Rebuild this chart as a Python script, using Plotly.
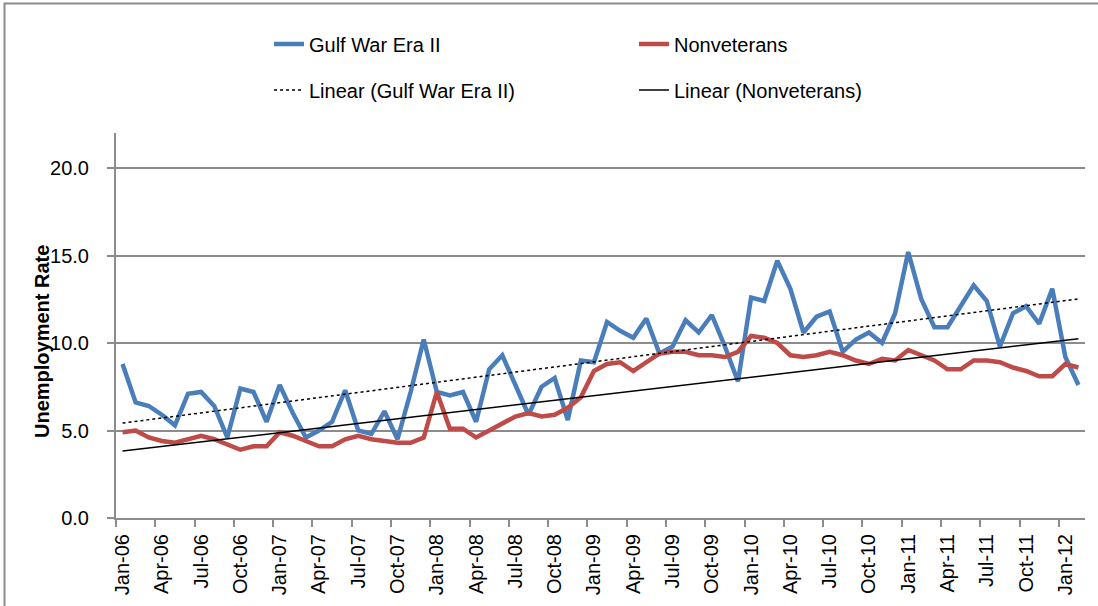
import numpy as np
import plotly.graph_objects as go

# monthly unemployment rates, Jan-06 .. Feb-12
gulf_war_ii = [
    8.8, 6.6, 6.4, 5.9, 5.3, 7.1, 7.2, 6.4, 4.6, 7.4, 7.2, 5.5,       # 2006
    7.6, 6.0, 4.6, 5.0, 5.5, 7.3, 5.0, 4.8, 6.1, 4.5, 7.2, 10.2,      # 2007
    7.2, 7.0, 7.2, 5.5, 8.5, 9.3, 7.6, 5.9, 7.5, 8.0, 5.6, 9.0,       # 2008
    8.9, 11.2, 10.7, 10.3, 11.4, 9.4, 9.8, 11.3, 10.6, 11.6, 9.8, 7.8,  # 2009
    12.6, 12.4, 14.7, 13.1, 10.6, 11.5, 11.8, 9.5, 10.2, 10.6, 10.0, 11.7,  # 2010
    15.2, 12.5, 10.9, 10.9, 12.1, 13.3, 12.4, 9.8, 11.7, 12.1, 11.1, 13.1,  # 2011
    9.2, 7.6,                                                           # 2012
]
nonveterans = [
    4.9, 5.0, 4.6, 4.4, 4.3, 4.5, 4.7, 4.5, 4.2, 3.9, 4.1, 4.1,
    4.9, 4.7, 4.4, 4.1, 4.1, 4.5, 4.7, 4.5, 4.4, 4.3, 4.3, 4.6,
    7.2, 5.1, 5.1, 4.6, 5.0, 5.4, 5.8, 6.0, 5.8, 5.9, 6.3, 6.9,
    8.4, 8.8, 8.9, 8.4, 8.9, 9.4, 9.5, 9.5, 9.3, 9.3, 9.2, 9.5,
    10.4, 10.3, 10.0, 9.3, 9.2, 9.3, 9.5, 9.3, 9.0, 8.8, 9.1, 9.0,
    9.6, 9.3, 9.0, 8.5, 8.5, 9.0, 9.0, 8.9, 8.6, 8.4, 8.1, 8.1,
    8.8, 8.6,
]
tick_labels = [
    'Jan-06', 'Apr-06', 'Jul-06', 'Oct-06', 'Jan-07', 'Apr-07', 'Jul-07', 'Oct-07',
    'Jan-08', 'Apr-08', 'Jul-08', 'Oct-08', 'Jan-09', 'Apr-09', 'Jul-09', 'Oct-09',
    'Jan-10', 'Apr-10', 'Jul-10', 'Oct-10', 'Jan-11', 'Apr-11', 'Jul-11', 'Oct-11', 'Jan-12',
]
y_ticks = [0, 5, 10, 15, 20]

x = np.arange(len(gulf_war_ii))
tick_pos = x[::3][:len(tick_labels)]

# Excel-style linear trendlines
gulf_fit = np.polyval(np.polyfit(x, gulf_war_ii, 1), x)
nonvet_fit = np.polyval(np.polyfit(x, nonveterans, 1), x)

BLUE, RED = '#4A7EBB', '#BE4B48'
GRID = '#8C8C8C'
FONT = 'Liberation Sans, Arial, sans-serif'
W, H = 1098, 606

fig = go.Figure()
fig.add_trace(go.Scatter(x=x, y=gulf_war_ii, mode='lines', name='Gulf War Era II',
                         line=dict(color=BLUE, width=4.5), legend='legend'))
fig.add_trace(go.Scatter(x=x, y=nonveterans, mode='lines', name='Nonveterans',
                         line=dict(color=RED, width=4.5), legend='legend'))
fig.add_trace(go.Scatter(x=x, y=gulf_fit, mode='lines', name='Linear (Gulf War Era II)',
                         line=dict(color='black', width=1.5, dash='dot'), legend='legend2'))
fig.add_trace(go.Scatter(x=x, y=nonvet_fit, mode='lines', name='Linear (Nonveterans)',
                         line=dict(color='black', width=1.5), legend='legend2'))

# legends placed in container coords so they don't push the margins
legend_common = dict(orientation='h', xref='container', yref='container',
                     xanchor='left', yanchor='middle', x=269 / W,
                     entrywidth=320, entrywidthmode='pixels', bgcolor='rgba(0,0,0,0)',
                     font=dict(family=FONT, size=20, color='black'), traceorder='normal')

fig.update_layout(
    width=W, height=H,
    margin=dict(l=116, r=13, t=133, b=88, autoexpand=False),
    paper_bgcolor='white', plot_bgcolor='white',
    font=dict(family=FONT, size=20, color='black'),
    showlegend=True,
    legend=dict(y=1 - 44 / H, **legend_common),
    legend2=dict(y=1 - 90 / H, **legend_common),
    xaxis=dict(range=[-0.5, len(x) - 0.5], tickmode='array', tickvals=tick_pos, ticktext=tick_labels,
               tickangle=-90, ticks='', showgrid=False, zeroline=False, automargin=False,
               showline=True, linecolor=GRID, linewidth=2, ticklabelstandoff=6,
               minor=dict(tickmode='array', tickvals=list(np.arange(-0.5, len(x), 3)),
                          ticks='outside', ticklen=7, tickcolor=GRID, tickwidth=2, showgrid=False),
               tickfont=dict(size=20)),
    yaxis=dict(range=[0, 22], tickmode='array', tickvals=y_ticks, tickformat='.1f',
               ticks='outside', ticklen=7, tickcolor=GRID, tickwidth=2, automargin=False,
               showgrid=True, gridcolor=GRID, gridwidth=2, zeroline=False,
               showline=True, linecolor=GRID, linewidth=2, ticklabelstandoff=14,
               tickfont=dict(size=20)),
)

# y-axis title, placed where Excel put it
fig.add_annotation(text='<b>Unemployment Rate</b>', textangle=-90, showarrow=False,
                   xref='paper', yref='paper', x=(42 - 116) / 969, y=(518 - 342) / 385,
                   xanchor='center', yanchor='middle', font=dict(size=20, family=FONT))

# chart border
fig.add_shape(type='rect', xref='paper', yref='paper',
              x0=(4.5 - 116) / 969, x1=(1104 - 116) / 969,
              y0=(518 - 612) / 385, y1=1 + (133 - 3.5) / 385,
              line=dict(color=GRID, width=2), fillcolor='rgba(0,0,0,0)', layer='below')

# drop the default body margin so the figure sits at the page corner
fig.write_html('out.html', config={'displayModeBar': False},
               post_script="document.body.style.margin='0';")
